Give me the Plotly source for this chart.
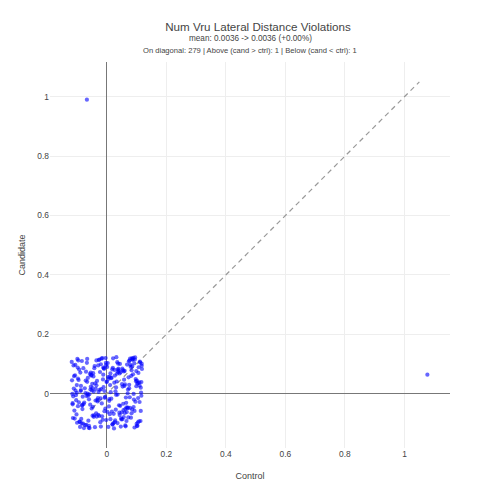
import plotly.graph_objects as go

# counts / base values (0 or 1 per run), jitter in thousandths
n_diag = 279
control_vals = [0.0] * n_diag + [0.0, 1.0]
candidate_vals = [0.0] * n_diag + [1.0, 0.0]

jitter_x = [
    -112, 45, -87, 103, 12, -34, 78, -101, 56, -9, 91, -66, 27, -118, 64, -45, 5, 110, -23, 83,
    -76, 38, -2, 97, -55, 19, -93, 71, -15, 116, -39, 48, -107, 8, 85, -61, 31, -84, 114, -28,
    60, -115, 22, -71, 94, -6, 43, -98, 75, -51, 3, 108, -37, 67, -89, 15, -20, 101, -64, 36,
    -105, 52, -12, 89, -47, 25, -80, 118, -31, 70, -96, 10, 58, -58, 99, -3, 41, -110, 81, -42,
    17, -74, 112, -17, 54, -91, 33, -68, 95, -26, 73, -103, 1, 62, -49, 106, -82, 29, -14, 87,
    -117, 47, -35, 79, -7, 23, -99, 66, -53, 113, -24, 39, -78, 92, -44, 13, -109, 57, -11, 100,
    -60, 34, -86, 76, -1, 50, -72, 117, -40, 6, -94, 84, -29, 61, -113, 20, 69, -57, 104, -19,
    44, -83, 9, 93, -48, 26, -104, 72, -33, 111, -8, 59, -69, 37, -97, 86, -21, 14, -62, 102,
    -43, 80, -116, 30, -4, 96, -52, 63, -88, 18, -36, 109, -67, 49, -13, 77, -100, 40, -54, 90,
    -27, 2, 115, -79, 55, -46, 24, -111, 68, -16, 98, -63, 32, -92, 82, -38, 11, -73, 107, -5,
    51, -108, 74, -30, 16, -85, 99, -50, 42, -18, 65, -95, 28, 114, -41, 7, -77, 88, -59, 35,
    -102, 53, -10, 78, -65, 21, -114, 105, -32, 46, -90, 4, 71, -22, 117, -56, 37, -81, 60, 0,
    -106, 85, -44, 19, -70, 110, -25, 57, -97, 31, 66, -12, -87, 93, -35, 8, 101, -60, 43, -115,
    75, -3, -48, 116, -20, 52, -83, 27, 90, -66, 12, -101, 62, -29, 105, -54, 36, -8, 83,
    -67, 77,
]

jitter_y = [
    95, -41, 12, -108, 68, -77, 118, 3, -55, 84, -20, 40, -96, 107, -13, 58, -112, 27, 73, -66,
    -30, 101, -89, 49, 14, -104, 81, -47, 120, -7, 35, -83, 62, -24, 92, -115, 21, 110, -58, 6,
    77, -36, -99, 44, 115, -11, -72, 88, 30, -50, 103, -93, 16, -62, 71, -17, 99, -109, 53, -3,
    10, -86, 64, 121, -44, 37, -101, 83, -26, 1, 112, -69, 47, -116, 25, 96, -39, 59, -81, 86,
    -60, 18, 105, -33, 79, -95, 41, -8, 122, -75, 55, -22, 90, -107, 33, 70, -52, 8, -88, 114,
    45, -111, 28, 97, -14, -68, 117, -46, 61, -92, 13, 84, -35, 102, -78, 5, -57, 75, 22, -102,
    -19, 67, -85, 111, 39, -63, 2, 94, -113, 50, -29, 119, -71, 31, -9, 87, -49, 66, -97, 15,
    100, -38, 57, -114, 19, 80, -5, -80, 43, 108, -59, 26, -105, 73, -42, 116, -16, 52, -91, 34,
    -73, 91, -1, -54, 120, -27, 63, -110, 9, 82, -66, 38, 104, -87, 48, -12, -98, 78, 23, -45,
    113, -61, 4, 86, -34, 69, -117, 17, 98, -76, 42, -6, 123, -94, 60, -23, 29, -106, 89, -50,
    32, -84, 109, -15, 54, -100, 76, 11, -64, 118, -31, 46, -90, 20, 93, -43, -116, 65, -2, 106,
    -70, 24, 85, -48, 0, 119, -82, 36, -21, 72, -112, 56, 14, -96, 101, -37, 81, -10, -65, 41,
    97, -53, 7, -103, 74, -28, 115, -79, 51, -4, -92, 88, 26, -58, 112, -18, 44, -108, 68, -32,
    18, 104, -74, 39, -111, 84, -40, 61, -1, 117, -86, 29, -52, 95, -15, 71, -99, 9, 79,
    -10, 64,
]

diag_line = [-0.05, 1.05]

title_text = "Num Vru Lateral Distance Violations"
subtitle_text = "mean: 0.0036 -> 0.0036 (+0.00%)"
counts_text = "On diagonal: 279 | Above (cand > ctrl): 1 | Below (cand < ctrl): 1"

xs = [c + j / 1000 for c, j in zip(control_vals, jitter_x)]
ys = [c + j / 1000 for c, j in zip(candidate_vals, jitter_y)]

fig = go.Figure()

fig.add_trace(go.Scatter(
    x=diag_line,
    y=diag_line,
    mode="lines",
    line=dict(color="#999", dash="5px,4px", width=1.2),
    showlegend=False,
))

fig.add_trace(go.Scatter(
    x=xs,
    y=ys,
    mode="markers",
    marker=dict(color="blue", size=4.2, opacity=0.6),
    showlegend=False,
))

fig.update_layout(
    template="plotly_white",
    width=500,
    height=500,
    margin=dict(l=42, r=58, t=54, b=60),
    font=dict(family="Arial, Liberation Sans", size=8.4, color="#444"),
    title=dict(
        text=title_text,
        x=0.5,
        xanchor="center",
        y=0.962,
        yanchor="middle",
        font=dict(size=11.6),
    ),
    annotations=[
        dict(
            text=subtitle_text,
            xref="paper",
            yref="paper",
            x=0.5,
            y=1.062,
            xanchor="center",
            yanchor="middle",
            showarrow=False,
            font=dict(size=8.2),
        ),
        dict(
            text=counts_text,
            xref="paper",
            yref="paper",
            x=0.5,
            y=1.0285,
            xanchor="center",
            yanchor="middle",
            showarrow=False,
            font=dict(size=7.6),
        ),
    ],
)

fig.update_xaxes(
    title=dict(text="Control", font=dict(size=9), standoff=14),
    range=[-0.191, 1.153],
    dtick=0.2,
    automargin=True,
    zeroline=True,
    zerolinecolor="#777",
    zerolinewidth=1.2,
    gridcolor="#eee",
    tickfont=dict(size=8.4),
)
fig.update_yaxes(
    title=dict(text="Candidate", font=dict(size=9), standoff=10),
    range=[-0.183, 1.117],
    dtick=0.2,
    automargin=True,
    zeroline=True,
    zerolinecolor="#777",
    zerolinewidth=1.2,
    gridcolor="#eee",
    tickfont=dict(size=8.4),
)

fig.write_html("out.html")
